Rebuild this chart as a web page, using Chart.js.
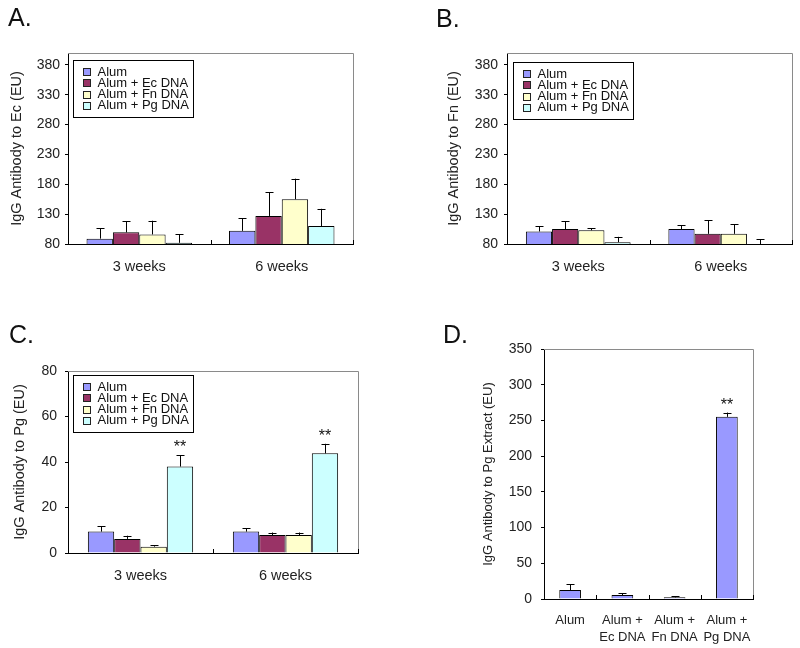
<!DOCTYPE html>
<html><head><meta charset="utf-8">
<script src="https://cdn.jsdelivr.net/npm/chart.js@4/dist/chart.umd.min.js"></script>
<style>
html,body{margin:0;padding:0;background:#fff;}
#wrap{position:relative;width:800px;height:648px;overflow:hidden;font-family:"Liberation Sans",Arial,sans-serif;}
canvas{position:absolute;}
.lab{position:absolute;font-size:25px;color:#111;line-height:1;font-family:"Liberation Sans",Arial,sans-serif;}
</style></head><body>
<div id="wrap">
<canvas id="cA" width="400" height="290" style="left:0;top:0;width:400px;height:290px"></canvas>
<canvas id="cB" width="400" height="290" style="left:400px;top:0;width:400px;height:290px"></canvas>
<canvas id="cC" width="400" height="358" style="left:0;top:290px;width:400px;height:358px"></canvas>
<canvas id="cD" width="400" height="358" style="left:400px;top:290px;width:400px;height:358px"></canvas>
<div class="lab" style="left:8px;top:5px">A.</div>
<div class="lab" style="left:436px;top:6px">B.</div>
<div class="lab" style="left:9px;top:322px">C.</div>
<div class="lab" style="left:443px;top:322px">D.</div>
</div>
<script>
// ---------- data ----------
const weeks = ['3 weeks', '6 weeks'];
const seriesNames = ['Alum', 'Alum + Ec DNA', 'Alum + Fn DNA', 'Alum + Pg DNA'];
const seriesColors = ['#9999FF', '#993366', '#FFFFCC', '#CCFFFF'];

// Panel A: IgG antibody to Ec (EU); rows = series, columns = weeks
const ecMean = [[89, 102], [99.5, 127], [96, 155], [82, 110]];
const ecErrTop = [[106, 123], [118, 167], [119, 189.5], [96, 139]];
const ecTicks = [80, 130, 180, 230, 280, 330, 380];

// Panel B: IgG antibody to Fn (EU)
const fnMean = [[101, 105], [105, 97], [103, 97], [83, 80]];
const fnErrTop = [[110, 111], [118, 120], [106, 113], [92, 88]];
const fnTicks = [80, 130, 180, 230, 280, 330, 380];

// Panel C: IgG antibody to Pg (EU)
const pgMean = [[9.4, 9.4], [6.2, 7.9], [2.8, 7.9], [38, 43.8]];
const pgErrTop = [[11.7, 10.9], [7.6, 9.0], [3.4, 9.0], [42.9, 48]];
const pgSig = [['', ''], ['', ''], ['', ''], ['**', '**']];
const pgTicks = [0, 20, 40, 60, 80];

// Panel D: IgG antibody to Pg extract (EU)
const extractGroups = [['Alum'], ['Alum +', 'Ec DNA'], ['Alum +', 'Fn DNA'], ['Alum +', 'Pg DNA']];
const extractMean = [12.6, 5.6, 2.3, 255];
const extractErrTop = [20.5, 8.4, 3.7, 261];
const extractSig = ['', '', '', '**'];
const extractTicks = [0, 50, 100, 150, 200, 250, 300, 350];

// ---------- rendering ----------
const FONT = '"Liberation Sans", Arial, sans-serif';
Chart.defaults.font.family = FONT;

const framePlugin = {
  id: 'frame',
  beforeDatasetsDraw(chart) {
    const a = chart.chartArea, ctx = chart.ctx;
    ctx.save();
    ctx.strokeStyle = '#8a8a8a'; ctx.lineWidth = 1;
    ctx.beginPath();
    ctx.moveTo(a.left, a.top + 0.5); ctx.lineTo(a.right + 0.5, a.top + 0.5);
    ctx.lineTo(a.right + 0.5, a.bottom);
    ctx.stroke();
    ctx.restore();
  },
  afterDatasetsDraw(chart) {
    const a = chart.chartArea, ctx = chart.ctx, xs = chart.scales.x;
    const n = chart.data.labels.length;
    ctx.save();
    ctx.strokeStyle = '#000'; ctx.lineWidth = 1;
    ctx.beginPath();
    for (let i = 1; i <= n; i++) {
      const x = i < n ? Math.round((xs.getPixelForTick(i - 1) + xs.getPixelForTick(i)) / 2) + 0.5 : Math.round(a.right) + 0.5;
      ctx.moveTo(x, a.bottom); ctx.lineTo(x, a.bottom - 4);
    }
    ctx.stroke();
    const ys = chart.scales.y;
    chart.data.datasets.forEach((ds, di) => {
      const meta = chart.getDatasetMeta(di);
      meta.data.forEach((bar, i) => {
        const top = ys.getPixelForValue(ds.errTop[i]);
        const x = Math.round(bar.x) + 0.5;
        ctx.beginPath();
        ctx.moveTo(x, bar.y); ctx.lineTo(x, top);
        ctx.moveTo(x - 4, Math.round(top) + 0.5); ctx.lineTo(x + 4, Math.round(top) + 0.5);
        ctx.stroke();
        const s = ds.sig ? ds.sig[i] : '';
        if (s) {
          ctx.fillStyle = '#111';
          ctx.font = '16px ' + FONT;
          ctx.textAlign = 'center'; ctx.textBaseline = 'alphabetic';
          ctx.fillText(s, bar.x, top - 3);
        }
      });
    });
    ctx.restore();
  },
  afterDraw(chart) {
    const lg = chart.options.plugins.boxLegend;
    if (!lg || !lg.show) return;
    const a = chart.chartArea, ctx = chart.ctx;
    const bx = Math.round(a.left + lg.dx) + 0.5, by = Math.round(a.top + lg.dy) + 0.5;
    ctx.save();
    ctx.fillStyle = '#fff'; ctx.strokeStyle = '#000'; ctx.lineWidth = 1;
    ctx.fillRect(bx, by, 120, 57); ctx.strokeRect(bx, by, 120, 57);
    ctx.font = '13px ' + FONT; ctx.textBaseline = 'middle'; ctx.textAlign = 'left';
    chart.data.datasets.forEach((ds, i) => {
      const cy = by + 11 + i * 11.3;
      const sq = Math.round(cy - 3.5) + 0.5;
      ctx.fillStyle = ds.backgroundColor;
      ctx.fillRect(bx + 10, sq, 7, 7);
      ctx.strokeStyle = '#222';
      ctx.strokeRect(bx + 10, sq, 7, 7);
      ctx.fillStyle = '#111';
      ctx.fillText(ds.label, bx + 24, cy + 0.5);
    });
    ctx.restore();
  }
};

function makeChart(id, c) {
  return new Chart(document.getElementById(id), {
    type: 'bar',
    data: { labels: c.labels, datasets: c.datasets },
    options: {
      responsive: false, animation: false, devicePixelRatio: 1,
      layout: { padding: c.pad },
      datasets: { bar: { categoryPercentage: c.catPct, barPercentage: c.barPct, borderColor: '#000', borderWidth: 1 } },
      plugins: { legend: { display: false }, tooltip: { enabled: false }, boxLegend: c.legend },
      scales: {
        x: {
          grid: { display: false, drawTicks: false, tickLength: 0 },
          border: { display: true, color: '#000', width: 1 },
          ticks: { color: '#222', font: c.xFont, padding: c.xPad, maxRotation: 0, autoSkip: false },
          afterFit: s => { s.height = c.xH; }
        },
        y: {
          min: c.min, max: c.max,
          grid: { display: true, drawOnChartArea: false, tickLength: 3, color: '#000' },
          border: { display: true, color: '#000', width: 1 },
          ticks: { color: '#222', font: { size: 14 }, padding: c.yPad },
          afterBuildTicks: s => { s.ticks = c.ticks.map(v => ({ value: v })); },
          afterFit: s => { s.width = c.yW; },
          title: { display: true, text: c.yTitle, color: '#222', font: { size: c.titleSize }, padding: { top: c.titlePad, bottom: 0 } }
        }
      }
    },
    plugins: [framePlugin]
  });
}

function groupedSets(mean, errTop, sig) {
  return seriesNames.map((n, i) => ({
    label: n, data: mean[i], errTop: errTop[i], sig: sig ? sig[i] : null,
    backgroundColor: seriesColors[i]
  }));
}

makeChart('cA', {
  labels: weeks, datasets: groupedSets(ecMean, ecErrTop),
  pad: { left: 0, right: 47, top: 53, bottom: 6 }, yW: 68, xH: 40,
  min: 80, max: 400, ticks: ecTicks, yTitle: 'IgG Antibody to Ec (EU)', titleSize: 14.5, titlePad: 8,
  catPct: 0.74, barPct: 1, xFont: { size: 14.5 }, xPad: 14, yPad: 5,
  legend: { show: true, dx: 5, dy: 7 }
});
makeChart('cB', {
  labels: weeks, datasets: groupedSets(fnMean, fnErrTop),
  pad: { left: 37, right: 8, top: 53, bottom: 6 }, yW: 70, xH: 40,
  min: 80, max: 400, ticks: fnTicks, yTitle: 'IgG Antibody to Fn (EU)', titleSize: 14.5, titlePad: 8,
  catPct: 0.735, barPct: 1, xFont: { size: 14.5 }, xPad: 14, yPad: 6,
  legend: { show: true, dx: 6, dy: 9 }
});
makeChart('cC', {
  labels: weeks, datasets: groupedSets(pgMean, pgErrTop, pgSig),
  pad: { left: 0, right: 42, top: 81, bottom: 55 }, yW: 68, xH: 40,
  min: 0, max: 80, ticks: pgTicks, yTitle: 'IgG Antibody to Pg (EU)', titleSize: 14.5, titlePad: 11,
  catPct: 0.726, barPct: 1, xFont: { size: 14.5 }, xPad: 14, yPad: 8,
  legend: { show: true, dx: 5, dy: 4 }
});
makeChart('cD', {
  labels: extractGroups,
  datasets: [{ label: 'IgG', data: extractMean, errTop: extractErrTop, sig: extractSig, backgroundColor: '#9999FF' }],
  pad: { left: 72, right: 47, top: 59, bottom: 4 }, yW: 72, xH: 45,
  min: 0, max: 350, ticks: extractTicks, yTitle: 'IgG Antibody to Pg Extract (EU)', titleSize: 13, titlePad: 9,
  catPct: 1, barPct: 0.415, xFont: { size: 13, lineHeight: 1.3 }, xPad: 13, yPad: 9,
  legend: { show: false }
});
</script>
</body></html>
